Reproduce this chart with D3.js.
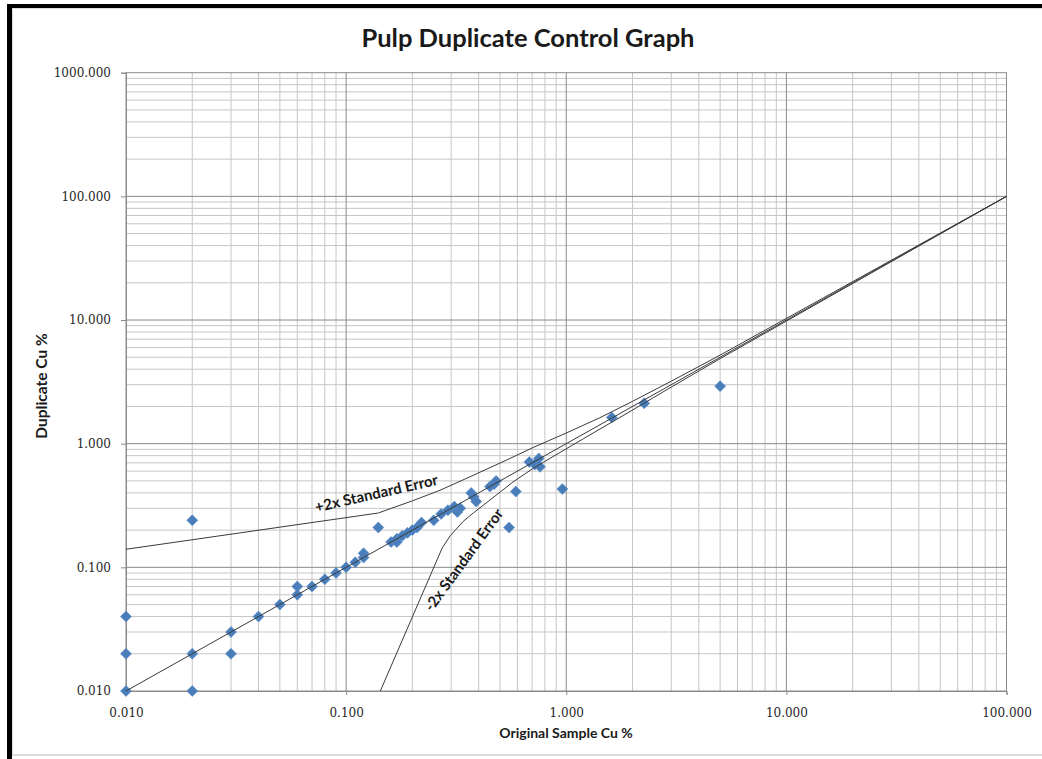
<!DOCTYPE html>
<html>
<head>
<meta charset="utf-8">
<script src="https://cdn.jsdelivr.net/npm/d3@7/dist/d3.min.js"></script>
<style>
  html, body { margin: 0; padding: 0; background: #fff; }
  svg { display: block; }
</style>
</head>
<body>
<svg id="chart" width="1042" height="759"></svg>
<script>
// Original assay vs. pulp duplicate assay (Cu %)
const origCu = [0.01, 0.01, 0.01, 0.02, 0.02, 0.02, 0.03, 0.03, 0.04, 0.05,
                0.06, 0.06, 0.07, 0.08, 0.09, 0.10, 0.11, 0.12, 0.12, 0.14,
                0.16, 0.17, 0.17, 0.18, 0.19, 0.20, 0.21, 0.22, 0.25, 0.27,
                0.29, 0.31, 0.32, 0.33, 0.37, 0.38, 0.39, 0.45, 0.47, 0.48,
                0.55, 0.59, 0.68, 0.72, 0.75, 0.76, 0.96, 1.61, 2.26, 5.00];
const dupCu  = [0.04, 0.02, 0.01, 0.24, 0.02, 0.01, 0.03, 0.02, 0.04, 0.05,
                0.07, 0.06, 0.07, 0.08, 0.09, 0.10, 0.11, 0.12, 0.13, 0.21,
                0.16, 0.17, 0.16, 0.18, 0.19, 0.20, 0.21, 0.23, 0.24, 0.27,
                0.29, 0.31, 0.28, 0.30, 0.40, 0.37, 0.34, 0.45, 0.47, 0.50,
                0.21, 0.41, 0.71, 0.68, 0.76, 0.65, 0.43, 1.63, 2.12, 2.92];

// 1:1 reference line
const equalX = [0.01, 100];
const equalY = [0.01, 100];

// +2x standard error envelope
const upperX = [0.01, 0.14, 0.20, 0.267, 0.378, 0.538, 0.706, 1.00, 1.42, 2.00, 3.00, 5.00, 100];
const upperY = [0.14, 0.275, 0.345, 0.42, 0.555, 0.74, 0.93, 1.22, 1.62, 2.20, 3.20, 5.20, 100];

// -2x standard error envelope
const lowerX = [0.143, 0.273, 0.297, 0.34, 0.378, 0.45, 0.573, 0.706, 0.843, 1.20, 2.00, 3.00, 5.00, 100];
const lowerY = [0.010, 0.143, 0.18, 0.235, 0.275, 0.35, 0.49, 0.63, 0.76, 1.10, 1.87, 2.87, 4.87, 100];

// Axis tick values
const xTicks = [0.01, 0.1, 1, 10, 100];
const yTicks = [0.01, 0.1, 1, 10, 100, 1000];

const svg = d3.select("#chart");

// page frame
svg.append("rect").attr("x", 12).attr("y", 8).attr("width", 1040).attr("height", 747)
  .attr("fill", "none").attr("stroke", "#d0d0d0").attr("stroke-width", 1.5);
svg.append("rect").attr("x", 7).attr("y", 4).attr("width", 1035).attr("height", 4).attr("fill", "#000");
svg.append("rect").attr("x", 7).attr("y", 4).attr("width", 5).attr("height", 755).attr("fill", "#000");

const plotL = 126, plotR = 1006.5, plotT = 72.7, plotB = 691;

const x = d3.scaleLog().domain([0.01, 100]).range([plotL, plotR]);
const y = d3.scaleLog().domain([0.01, 1000]).range([plotB, plotT]);

const isMajor = v => Math.abs(Math.log10(v) - Math.round(Math.log10(v))) < 1e-9;

// gridlines
const grid = svg.append("g");
const xAll = x.ticks();
const yAll = y.ticks();
grid.selectAll("line.gx").data(xAll.filter(v => !isMajor(v))).join("line")
  .attr("x1", d => x(d)).attr("x2", d => x(d)).attr("y1", plotT).attr("y2", plotB)
  .attr("stroke", "#c6c6c6").attr("stroke-width", 1);
grid.selectAll("line.gy").data(yAll.filter(v => !isMajor(v))).join("line")
  .attr("y1", d => y(d)).attr("y2", d => y(d)).attr("x1", plotL).attr("x2", plotR)
  .attr("stroke", "#c6c6c6").attr("stroke-width", 1);
grid.selectAll("line.mx").data(xAll.filter(isMajor)).join("line")
  .attr("x1", d => x(d)).attr("x2", d => x(d)).attr("y1", plotT).attr("y2", plotB)
  .attr("stroke", "#8a8a8a").attr("stroke-width", 1);
grid.selectAll("line.my").data(yAll.filter(isMajor)).join("line")
  .attr("y1", d => y(d)).attr("y2", d => y(d)).attr("x1", plotL).attr("x2", plotR)
  .attr("stroke", "#8a8a8a").attr("stroke-width", 1);

// axes
const fmt = d3.format(".3f");
const yAxis = svg.append("g").attr("transform", `translate(${plotL},0)`)
  .call(d3.axisLeft(y).tickValues(yTicks).tickFormat(fmt).tickSize(5).tickPadding(10));
const xAxis = svg.append("g").attr("transform", `translate(0,${plotB})`)
  .call(d3.axisBottom(x).tickValues(xTicks).tickFormat(fmt).tickSize(4).tickPadding(13));
[xAxis, yAxis].forEach(a => {
  a.select(".domain").attr("stroke", "#8a8a8a");
  a.selectAll(".tick line").attr("stroke", "#8a8a8a");
  a.selectAll(".tick text").attr("font-family", "DejaVu Serif").attr("font-size", 12).attr("fill", "#262626");
});

// markers
const diamond = "M0,-5.5L5.5,0L0,5.5L-5.5,0Z";
svg.append("g").selectAll("path").data(origCu.map((v, i) => [v, dupCu[i]])).join("path")
  .attr("d", diamond)
  .attr("transform", d => `translate(${x(d[0])},${y(d[1])})`)
  .attr("fill", "#4a7ebb").attr("stroke", "#5b8cc8").attr("stroke-width", 0.6);

// reference lines
const line = d3.line().x(d => x(d[0])).y(d => y(d[1]));
const lines = svg.append("g").attr("fill", "none").attr("stroke", "#3a3a3a").attr("stroke-width", 1);
lines.append("path").attr("d", line(equalX.map((v, i) => [v, equalY[i]])));
lines.append("path").attr("d", line(upperX.map((v, i) => [v, upperY[i]])));
lines.append("path").attr("d", line(lowerX.map((v, i) => [v, lowerY[i]])));

// line labels
svg.append("text").attr("transform", "translate(377.5,498.5) rotate(-12.8)")
  .attr("text-anchor", "middle").attr("font-family", "Lato").attr("font-weight", "bold")
  .attr("font-size", 15).attr("fill", "#1a1a1a").text("+2x Standard Error");
svg.append("text").attr("transform", "translate(468,563) rotate(-54)")
  .attr("text-anchor", "middle").attr("font-family", "Lato").attr("font-weight", "bold")
  .attr("font-size", 15).attr("fill", "#1a1a1a").text("-2x Standard Error");

// titles
svg.append("text").attr("x", 528).attr("y", 47).attr("text-anchor", "middle")
  .attr("font-family", "Lato").attr("font-weight", "bold").attr("font-size", 25.5)
  .attr("fill", "#1a1a1a").text("Pulp Duplicate Control Graph");
svg.append("text").attr("x", 566).attr("y", 738).attr("text-anchor", "middle")
  .attr("font-family", "Lato").attr("font-weight", "bold").attr("font-size", 14)
  .attr("fill", "#1a1a1a").text("Original Sample Cu %");
svg.append("text").attr("transform", "translate(47,386) rotate(-90)").attr("text-anchor", "middle")
  .attr("font-family", "Lato").attr("font-weight", "bold").attr("font-size", 15.5)
  .attr("fill", "#1a1a1a").text("Duplicate Cu %");
</script>
</body>
</html>
